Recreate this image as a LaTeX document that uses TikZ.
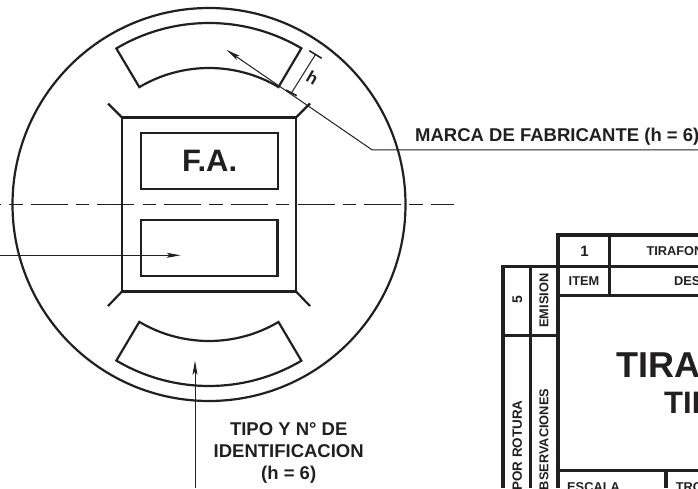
\documentclass[tikz,border=0pt]{standalone}
\usepackage{fontspec}
\setmainfont{Liberation Sans}
\usetikzlibrary{arrows.meta}
\definecolor{inkblack}{HTML}{231F20}
\tikzset{
  mainline/.style={line width=2.2pt,color=inkblack},
  thinline/.style={line width=1pt,color=inkblack},
  tableline/.style={line width=3.2pt,color=inkblack},
  leader/.style={thinline,-{Stealth[length=14pt,width=5pt,inset=3pt]}},
  markbox/.style={draw=inkblack,line width=2.2pt,minimum width=136.8pt,minimum height=56.6pt,inner sep=0pt},
  label/.style={font=\fontsize{18.5}{22}\selectfont\bfseries,text=inkblack,inner sep=0pt},
  cell/.style={font=\fontsize{12.8}{15}\selectfont\bfseries,text=inkblack,inner sep=0pt}
}
\begin{document}
\begin{tikzpicture}[x=1pt,y=1pt]
  \useasboundingbox (0,0) rectangle (698,488);
  \clip (0,0) rectangle (698,488);

  % Free ends
  \coordinate (centerL) at (-36,283.3);
  \coordinate (centerR) at (454,283.3);
  \coordinate (markTip) at (226.7,438);
  \coordinate (markKnee) at (372.3,338);
  \coordinate (markEnd) at (698,338);
  \coordinate (typeStart) at (195,0);
  \coordinate (typeTip) at (195,127.3);
  \coordinate (boxStart) at (0,232.7);
  \coordinate (boxTip) at (180.7,232.7);
  \coordinate (hTop) at (315.5,433.5);
  \coordinate (hBot) at (291.4,395);

  % Circle
  \draw[mainline] (209,283.5) circle (196.5);

  % Center line
  \draw[thinline,dash pattern=on 37pt off 8.2pt on 13.3pt off 8.2pt] (centerL)--(centerR);

  % Marks
  \begin{scope}[shift={(209,283.5)}]
    \draw[mainline,line join=miter] (120.7:181.5) arc[start angle=120.7,end angle=59.4,radius=181.5]
      -- (59.4:136.5) arc[start angle=59.4,end angle=120.7,radius=136.5] -- cycle;
    \draw[mainline,line join=miter] (-120.7:181.5) arc[start angle=-120.7,end angle=-59.4,radius=181.5]
      -- (-59.4:136.5) arc[start angle=-59.4,end angle=-120.7,radius=136.5] -- cycle;
  \end{scope}

  % Frame
  \draw[mainline] (122,196.5) rectangle (296,370.5);
  \draw[mainline] (108,384.5)--(122,370.5);
  \draw[mainline] (310,384.5)--(296,370.5);
  \draw[mainline] (108,182)--(122,196.5);
  \draw[mainline] (310,182)--(296,196.5);

  % Boxes
  \node[markbox,font=\fontsize{31}{36}\selectfont\bfseries,text=inkblack] (boxFA) at (209.6,327) {F.A.};
  \node[markbox] (boxType) at (209.1,240) {};

  % Dimension h
  \draw[thinline] (hTop)--(hBot);
  \draw[mainline,line width=1.6pt] (309.3,437.3)--(321.7,429.7);
  \draw[mainline,line width=1.6pt] (286,398)--(296.7,392.3);
  \node[font=\fontsize{17}{20}\selectfont\bfseries,text=inkblack,rotate=-30,inner sep=0pt] (hLabel) at (312.5,410.3) {h};

  % Arrows
  \draw[leader] (markEnd)--(markKnee)--(markTip);
  \draw[leader] (typeStart)--(typeTip);
  \draw[leader] (boxStart)--(boxTip);

  % Labels
  \node[label,anchor=base west] (markLabel) at (415,346.3) {MARCA DE FABRICANTE (h = 6)};
  \node[label,align=center] (typeLabel) at (288.7,35) {TIPO Y N° DE\\IDENTIFICACION\\(h = 6)};

  % Table
  \draw[tableline] (558,488-235)--(558,0);
  \draw[tableline] (609.7,488-235)--(609.7,488-295.7);
  \draw[tableline] (503,488-266.3)--(503,0);
  \draw[tableline] (530.7,488-266.3)--(530.7,0);
  \draw[tableline] (556.4,488-235)--(698,488-235);
  \draw[tableline] (501.4,488-266.3)--(698,488-266.3);
  \draw[tableline] (558,488-295.7)--(698,488-295.7);
  \draw[tableline] (503,488-335.7)--(558,488-335.7);
  \draw[tableline] (558,488-470.3)--(698,488-470.3);
  \draw[tableline] (666,488-470.3)--(666,0);

  % Table texts
  \node[cell,font=\fontsize{15}{18}\selectfont\bfseries] (itemNo) at (584.5,237) {1};
  \node[cell,anchor=west] (itemName) at (646.3,237) {TIRAFON};
  \node[cell] (itemHead) at (584,207) {ITEM};
  \node[cell,anchor=west] (descHead) at (674,207) {DES};
  \node[cell,rotate=90,font=\fontsize{14}{15}\selectfont\bfseries] (emisionNo) at (517.3,188) {5};
  \node[cell,rotate=90] (emisionHead) at (544,187.3) {EMISION};
  \node[cell,rotate=90,anchor=east,font=\fontsize{13.4}{15}\selectfont\bfseries] (ruptureHead) at (517.3,87.8) {POR ROTURA};
  \node[cell,rotate=90,anchor=east] (notesHead) at (544,99.3) {OBSERVACIONES};
  \node[cell,anchor=west,font=\fontsize{36}{40}\selectfont\bfseries] (titleBig) at (616.7,123.3) {TIRA};
  \node[cell,anchor=west,font=\fontsize{31}{36}\selectfont\bfseries] (titleSmall) at (664,84.7) {TIP};
  \node[cell,anchor=base west] (scaleHead) at (567,-3) {ESCALA};
  \node[cell,anchor=base west] (troHead) at (675.7,-3) {TRO};
\end{tikzpicture}
\end{document}
